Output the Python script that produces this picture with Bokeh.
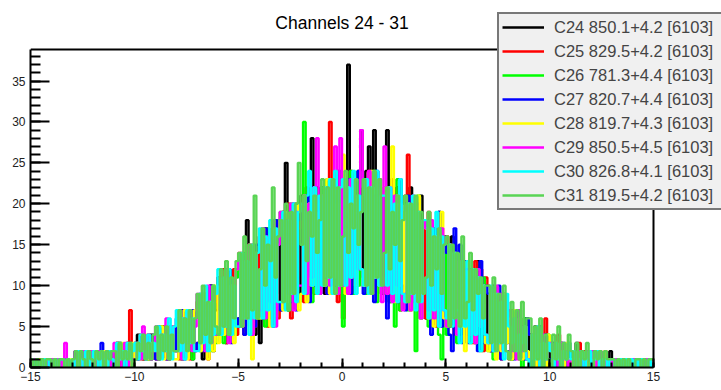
import numpy as np
from bokeh.plotting import figure
from bokeh.models import Range1d, FixedTicker, Legend, LegendItem, Label
from bokeh.embed import file_html
from bokeh.resources import INLINE

title_text = "Channels 24 - 31"
x_lo, x_hi = -15.0, 15.0
y_top = 38.85
x_major = [-15, -10, -5, 0, 5, 10, 15]
x_minor = list(range(-15, 16))
y_major = [0, 5, 10, 15, 20, 25, 30, 35]
y_minor = list(range(0, 39))

labels = ["C24 850.1+4.2 [6103]", "C25 829.5+4.2 [6103]", "C26 781.3+4.4 [6103]",
          "C27 820.7+4.4 [6103]", "C28 819.7+4.3 [6103]", "C29 850.5+4.5 [6103]",
          "C30 826.8+4.1 [6103]", "C31 819.5+4.2 [6103]"]
colors = ["#000000", "#ff0000", "#00ff00", "#0000ff", "#ffff00", "#ff00ff", "#00ffff", "#59d454"]

# bin contents: 240 bins of width 0.125 from -15 to 15 (8 bins per unit of x)
c24 = [0,1,0,0,1,0,0,1, 0,1,1,0,0,1,0,1, 1,0,2,0,1,0,2,1, 0,2,1,0,2,1,0,2,
       1,3,0,2,1,3,1,2, 1,4,2,1,3,1,4,2, 3,1,5,2,4,1,5,3, 2,6,1,7,3,5,1,6,
       8,3,1,9,4,10,2,7, 11,4,9,3,12,6,10,5, 6,13,5,18,7,14,4,12, 3,15,7,17,6,14,9,16,
       8,19,25,7,18,10,20,9, 21,10,19,9,28,11,22,13, 22,9,23,11,20,10,24,12, 10,23,37,9,22,12,24,29,
       11,24,27,10,29,12,22,9, 21,29,10,23,8,22,11,20, 20,8,22,10,19,7,21,9, 6,18,9,17,7,19,8,16,
       15,5,16,6,14,4,13,7, 12,4,11,3,13,5,10,4, 9,2,10,3,8,2,9,3, 6,1,7,2,5,1,6,2,
       4,1,5,0,3,1,4,0, 3,0,2,1,3,0,2,1, 2,0,3,1,1,2,0,1, 1,0,2,0,1,1,0,2,
       0,1,1,0,1,0,1,0, 1,0,0,1,0,1,0,0]
c25 = [1,0,1,1,0,0,1,0, 0,1,0,1,1,0,0,1, 1,2,0,1,0,2,1,0, 2,0,1,2,0,1,2,1,
       1,3,0,2,1,3,7,1, 3,1,4,1,2,4,1,3, 1,4,2,5,1,4,2,5, 5,1,6,2,7,1,6,2,
       3,8,2,9,1,10,3,8, 11,4,12,3,10,5,12,4, 5,14,4,13,6,15,5,12, 16,6,17,5,15,8,18,6,
       7,19,8,20,6,18,9,17, 20,8,22,10,19,9,21,11, 10,22,9,30,11,23,8,21, 6,23,10,24,9,22,12,21,
       22,10,24,9,21,11,23,10, 9,21,8,23,10,22,7,20, 21,26,7,20,9,19,8,18, 6,19,7,17,5,18,8,16,
       16,5,15,4,14,6,13,5, 4,12,3,13,5,12,2,11, 10,2,9,3,8,1,9,2, 1,7,2,6,1,5,2,6,
       4,1,3,0,4,1,6,0, 0,3,1,4,0,2,1,3, 2,0,1,3,0,2,1,0, 0,2,1,0,1,2,0,1,
       1,0,1,0,1,0,0,1, 0,1,0,0,1,0,1,0]
c26 = [0,0,1,0,1,0,0,1, 1,0,0,1,0,0,1,0, 0,1,2,0,1,2,0,1, 1,0,2,1,0,2,1,0,
       2,0,3,1,2,0,3,1, 1,3,1,4,2,1,3,2, 4,1,5,2,4,1,5,2, 2,6,1,5,2,7,1,6,
       8,2,9,3,7,2,10,3, 4,11,3,12,5,10,4,11, 13,5,14,6,12,4,15,7, 6,16,5,17,7,15,6,18,
       19,8,18,7,20,9,17,8, 9,30,10,21,8,22,9,20, 22,10,23,9,21,11,24,10, 5,22,11,24,9,23,10,21,
       23,9,22,10,24,8,21,11, 9,22,8,21,5,23,7,20, 20,7,19,8,2,21,6,18, 17,5,18,6,16,4,1,15,
       4,14,5,15,3,13,6,12, 11,3,12,4,10,2,11,3, 2,9,1,8,3,9,2,7, 6,1,7,2,5,0,6,1,
       0,4,1,5,0,3,1,4, 3,0,2,1,3,0,2,1, 0,2,1,0,2,1,0,1, 1,0,1,2,0,1,0,1,
       0,1,0,1,0,0,1,0, 0,0,1,0,0,1,0,0]
c27 = [0,1,0,1,0,0,1,0, 1,0,1,0,1,1,0,0, 0,2,1,0,2,1,0,1, 2,0,1,3,0,1,2,0,
       0,2,3,1,2,0,3,1, 3,1,2,4,1,3,1,4, 1,5,2,4,1,5,3,2, 6,2,7,1,6,3,7,2,
       3,9,2,8,4,10,3,9, 10,4,11,5,12,3,10,6, 5,13,4,14,6,12,5,15, 16,6,17,7,15,5,18,8,
       7,18,9,19,8,20,7,18, 20,9,21,8,22,10,19,9, 10,21,9,23,11,22,10,24, 22,11,23,9,21,10,24,12,
       9,23,11,22,8,24,10,21, 22,6,21,9,20,8,23,10, 7,21,8,19,9,20,6,18, 18,7,4,17,6,19,5,16,
       14,4,2,17,5,15,3,13, 3,12,4,11,2,13,3,10, 9,2,8,3,10,1,8,2, 2,6,1,7,2,5,1,6,
       4,0,3,1,5,0,4,1, 1,3,0,2,1,3,0,2, 2,0,1,2,0,1,2,0, 0,1,2,0,1,0,1,1,
       1,0,0,1,0,1,0,0, 0,1,0,0,1,0,1,0]
c28 = [1,0,0,1,0,1,0,0, 0,1,0,0,1,0,1,1, 1,0,2,0,1,2,0,1, 0,2,1,0,2,0,1,2,
       2,0,1,3,1,2,0,3, 1,3,1,2,4,1,3,2, 4,2,5,1,4,2,5,1, 1,6,2,7,1,5,3,7,
       8,2,9,3,1,8,2,10, 3,11,4,12,5,10,3,12, 14,5,13,6,15,1,14,6, 6,16,7,15,5,17,8,16,
       18,7,19,8,17,9,20,7, 9,21,8,20,10,22,9,19, 21,10,23,9,22,11,20,10, 26,9,22,11,23,10,21,12,
       10,23,9,24,11,22,10,21, 22,9,20,27,8,21,10,19, 8,20,7,19,9,21,6,18, 17,6,18,5,16,7,19,6,
       5,15,6,14,4,13,5,2, 13,4,12,3,11,5,10,3, 2,9,3,1,8,2,9,3, 6,1,7,2,6,1,5,2,
       1,4,0,5,1,3,0,4, 2,0,3,1,2,0,3,1, 0,2,1,0,2,1,0,2, 1,0,1,1,0,2,0,1,
       0,1,0,1,0,0,1,0, 1,0,0,1,0,0,1,0]
c29 = [0,1,1,0,0,1,0,1, 1,0,1,0,1,3,0,0, 0,2,1,0,2,1,0,2, 1,0,2,1,0,2,1,0,
       3,1,0,2,3,0,2,1, 1,3,1,5,2,4,1,3, 5,1,4,2,6,1,5,2, 2,7,1,6,3,7,2,5,
       9,3,8,2,10,3,9,4, 4,11,5,12,3,10,6,12, 14,5,13,6,15,4,14,7, 7,17,6,16,8,18,5,15,
       19,8,18,9,20,7,19,10, 10,21,9,20,11,22,28,9, 21,11,22,10,23,27,9,28, 10,22,9,23,11,21,12,29,
       22,10,24,9,21,11,23,8, 27,9,22,8,21,10,20,7, 9,20,7,21,8,19,6,18, 17,7,18,6,16,5,17,7,
       5,15,6,14,4,13,6,12, 12,4,11,3,12,5,10,4, 3,9,2,10,3,9,2,8, 7,2,6,1,7,2,5,1,
       1,4,2,5,0,4,1,3, 3,1,2,0,3,1,2,0, 1,2,0,2,1,0,2,1, 2,0,1,2,0,1,0,1,
       0,1,1,0,1,0,0,1, 1,0,1,0,0,1,0,1]
c30 = [1,0,1,0,0,1,1,0, 0,1,0,1,1,0,1,0, 1,0,2,1,0,2,0,1, 2,1,0,2,1,0,2,1,
       0,3,1,2,0,3,1,2, 3,1,4,2,1,4,2,3, 2,5,1,4,2,6,1,5, 7,2,6,1,7,3,6,2,
       2,9,3,10,2,8,4,9, 12,4,11,5,12,4,10,5, 5,14,6,13,4,15,6,14, 17,6,16,7,18,5,17,8,
       8,19,7,18,9,20,8,19, 20,9,21,24,10,22,9,21, 10,22,11,23,9,24,10,22, 23,10,22,11,24,9,21,12,
       10,23,9,22,11,24,10,21, 21,10,22,9,20,8,23,9, 8,20,9,21,7,19,8,18, 18,6,17,7,19,5,16,7,
       6,15,5,14,7,3,13,5, 13,3,12,4,11,2,10,4, 3,10,2,9,3,8,1,9, 5,3,6,2,4,3,5,1,
       0,4,1,5,0,3,1,3, 2,0,3,1,0,2,1,3, 1,2,0,1,2,0,1,2, 0,1,2,0,1,1,0,1,
       1,0,0,1,0,1,0,1, 0,1,0,1,0,0,1,0]
c31 = [1,0,1,0,1,0,1,1, 0,1,0,1,1,0,1,0, 1,2,0,2,1,0,2,1, 0,2,1,2,0,2,1,2,
       2,0,3,1,2,1,3,0, 1,3,2,4,1,3,1,4, 5,1,4,2,5,1,4,2, 2,7,3,6,2,7,3,6,
       9,3,10,4,8,3,10,5, 4,12,5,13,4,11,6,13, 14,5,16,6,15,7,21,6, 12,17,10,15,13,22,11,16,
       18,8,20,7,19,9,20,25, 15,21,13,19,16,21,14,18, 23,10,22,11,23,9,22,10, 16,24,14,20,17,23,15,19,
       23,10,22,9,24,11,23,10, 14,22,12,19,15,21,13,18, 21,8,20,9,21,8,19,9, 11,19,10,16,12,17,9,15,
       16,5,15,6,14,5,16,6, 8,14,7,12,9,11,6,10, 10,3,11,2,9,3,10,2, 1,8,2,7,1,8,2,6,
       6,0,5,1,6,0,4,1, 0,4,1,5,0,3,1,4, 2,0,3,0,2,1,3,0, 0,2,1,2,0,2,1,1,
       1,0,1,0,1,0,1,0, 0,1,1,0,1,0,1,1]

series = [c24, c25, c26, c27, c28, c29, c30, c31]

FONT = "Liberation Sans"

# canvas geometry: the frame spans the canvas right of / above the axes so that the
# legend box (which overhangs the histogram box in the original) is not clipped
W, H = 721, 390
left_px, bottom_px = 30, 23
box_right_px, box_top_px = 653, 49
frame_w = W - left_px
frame_h = H - bottom_px
x_view_hi = x_lo + (x_hi - x_lo) * frame_w / (box_right_px - left_px)
y_view_hi = y_top * frame_h / (frame_h - box_top_px)

p = figure(width=W, height=H, output_backend="svg", toolbar_location=None,
           x_range=Range1d(x_lo, x_view_hi), y_range=Range1d(0, y_view_hi),
           min_border_left=left_px, min_border_right=0, min_border_top=0,
           min_border_bottom=bottom_px)
p.background_fill_color = "white"
p.border_fill_color = "white"
p.outline_line_color = None
p.xgrid.visible = False
p.ygrid.visible = False

for ax, major, minor, tin, mtin, bnds in ((p.xaxis[0], x_major, x_minor, 9, 5, (x_lo, x_hi)),
                                          (p.yaxis[0], y_major, y_minor, 19, 10, (0, y_top))):
    ax.ticker = FixedTicker(ticks=major, minor_ticks=minor)
    ax.bounds = bnds
    ax.axis_line_color = "black"
    ax.axis_line_width = 2
    ax.major_tick_in = tin
    ax.major_tick_out = 0
    ax.minor_tick_in = mtin
    ax.minor_tick_out = 0
    ax.major_tick_line_width = 2
    ax.minor_tick_line_width = 2
    ax.major_tick_line_color = "black"
    ax.minor_tick_line_color = "black"
    ax.major_label_text_font = FONT
    ax.major_label_text_font_size = "12px"
    ax.major_label_text_color = "#222222"
p.xaxis[0].major_label_standoff = 4
p.yaxis[0].major_label_standoff = 5

n_bins = len(c24)
edges = np.linspace(x_lo, x_hi, n_bins + 1)

items = []
for vals, col, lab in zip(series, colors, labels):
    yv = list(vals) + [vals[-1]]
    r = p.step(x=edges, y=yv, mode="after", line_color=col, line_width=2.4)
    items.append(LegendItem(label=lab, renderers=[r]))

# top and right sides of the histogram box
p.line(x=[x_lo, x_hi, x_hi], y=[y_top, y_top, 0], line_color="black", line_width=2)

title = Label(x=(x_lo + x_hi) / 2, y=y_top * (frame_h - 22) / (frame_h - box_top_px),
              text=title_text, text_align="center", text_baseline="alphabetic",
              text_font=FONT, text_font_size="17.5px", text_color="black")
p.add_layout(title)

legend = Legend(items=items, location=(467, 157))
legend.border_line_color = "black"
legend.border_line_width = 2
legend.background_fill_color = "#f0f0f0"
legend.background_fill_alpha = 1.0
legend.padding = 3
legend.spacing = 4
legend.margin = 0
legend.glyph_height = 20
legend.glyph_width = 42
legend.label_height = 20
legend.label_width = 175
legend.label_standoff = 10
legend.label_text_font = FONT
legend.label_text_font_size = "16.5px"
legend.label_text_baseline = "middle"
p.add_layout(legend)

open("out.html", "w").write(file_html(p, INLINE))
